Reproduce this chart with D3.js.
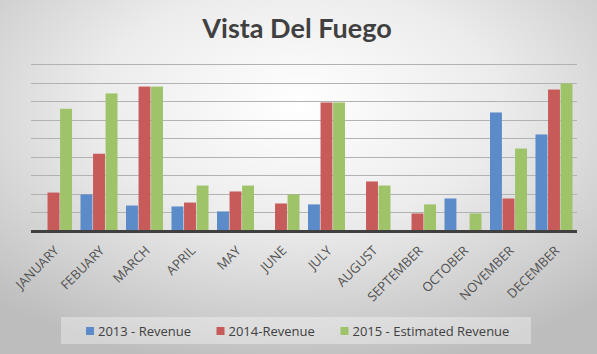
<!DOCTYPE html>
<html>
<head>
<meta charset="utf-8">
<script src="https://cdn.jsdelivr.net/npm/d3@7"></script>
<style>
  body { margin: 0; background: #fff; }
  svg { display: block; }
</style>
</head>
<body>
<script>
// Vista Del Fuego - monthly revenue, grouped columns

const W = 597
const H = 354

const months = ['JANUARY', 'FEBUARY', 'MARCH', 'APRIL', 'MAY', 'JUNE', 'JULY',
  'AUGUST', 'SEPTEMBER', 'OCTOBER', 'NOVEMBER', 'DECEMBER']
const seriesNames = ['2013 - Revenue', '2014-Revenue', '2015 - Estimated Revenue']
const rev2013 = [0, 1950, 1350, 1300, 1030, 0, 1410, 0, 0, 1730, 6380, 5190]
const rev2014 = [2050, 4150, 7780, 1510, 2110, 1460, 6920, 2650, 920, 0, 1730, 7620]
const rev2015 = [6580, 7410, 7780, 2430, 2430, 1950, 6920, 2430, 1410, 920, 4430, 7950]
const yTicks = [0, 1000, 2000, 3000, 4000, 5000, 6000, 7000, 8000, 9000]
const colors = ['#5b8bc8', '#c65b5a', '#9fc368']

const rows = months.map((m, i) => ({ month: m, values: [rev2013[i], rev2014[i], rev2015[i]] }))

const margin = { left: 31, right: 20, top: 64, bottom: 123.5 }

const svg = d3.select('body').append('svg')
  .attr('width', W)
  .attr('height', H)

// background gradient
const defs = svg.append('defs')
const grad = defs.append('radialGradient')
  .attr('id', 'bg')
  .attr('cx', '50%').attr('cy', '30%').attr('r', '75%')
  .attr('gradientUnits', 'objectBoundingBox')
grad.append('stop').attr('offset', '0%').attr('stop-color', '#ffffff')
grad.append('stop').attr('offset', '45%').attr('stop-color', '#ececec')
grad.append('stop').attr('offset', '100%').attr('stop-color', '#bdbdbd')
svg.append('rect')
  .attr('width', W).attr('height', H)
  .attr('fill', 'url(#bg)')

// title
svg.append('text')
  .attr('x', 297)
  .attr('y', 37.5)
  .attr('text-anchor', 'middle')
  .attr('font-family', 'Lato, "Open Sans", sans-serif')
  .attr('font-weight', 'bold')
  .attr('font-size', '27px')
  .attr('fill', '#404040')
  .text('Vista Del Fuego')

// scales
const x0 = d3.scaleBand()
  .domain(months)
  .range([margin.left, W - margin.right])
const x1 = d3.scaleBand()
  .domain([0, 1, 2])
  .range([4, x0.bandwidth() - 4.5])
  .paddingInner(0.05)
const y = d3.scaleLinear()
  .domain([0, 9000])
  .range([H - margin.bottom, margin.top])

// gridlines
svg.append('g')
  .selectAll('line')
  .data(yTicks.slice(1))
  .enter()
  .append('line')
  .attr('x1', margin.left)
  .attr('x2', W - margin.right)
  .attr('y1', (d) => Math.round(y(d)) + 0.5)
  .attr('y2', (d) => Math.round(y(d)) + 0.5)
  .attr('stroke', '#b2b2b2')
  .attr('stroke-width', 1)

// bars
const groups = svg.selectAll('.grp')
  .data(rows)
  .enter()
  .append('g')
  .attr('class', 'grp')
  .attr('transform', (d) => 'translate(' + x0(d.month) + ',0)')
groups.selectAll('rect')
  .data((d) => d.values.map((v, k) => ({ k: k, v: v })).filter((e) => e.v > 0))
  .enter()
  .append('rect')
  .attr('x', (d) => x1(d.k))
  .attr('y', (d) => y(d.v))
  .attr('width', x1.bandwidth())
  .attr('height', (d) => y(0) - y(d.v))
  .attr('fill', (d) => colors[d.k])

// baseline
svg.append('line')
  .attr('x1', margin.left)
  .attr('x2', W - margin.right)
  .attr('y1', y(0) + 1)
  .attr('y2', y(0) + 1)
  .attr('stroke', '#404040')
  .attr('stroke-width', 3)

// month labels
svg.append('g')
  .selectAll('text')
  .data(months)
  .enter()
  .append('text')
  .attr('transform', (d) => 'translate(' + (x0(d) + x0.bandwidth() / 2 + 6) + ',' + (y(0) + 21) + ') rotate(-45)')
  .attr('text-anchor', 'end')
  .attr('font-family', '"Open Sans", sans-serif')
  .attr('font-size', '13px')
  .attr('fill', '#505050')
  .text((d) => d)

// legend
const legend = svg.append('g')
legend.append('rect')
  .attr('x', 61).attr('y', 317)
  .attr('width', 470).attr('height', 27)
  .attr('fill', '#ffffff')
  .attr('fill-opacity', 0.35)
const legendX = [86, 216.5, 340.5]
const items = legend.selectAll('.item')
  .data(seriesNames)
  .enter()
  .append('g')
  .attr('class', 'item')
  .attr('transform', (d, i) => 'translate(' + legendX[i] + ',327)')
items.append('rect')
  .attr('width', 8).attr('height', 8)
  .attr('fill', (d, i) => colors[i])
items.append('text')
  .attr('x', 12)
  .attr('y', 8.5)
  .attr('font-family', '"Open Sans", sans-serif')
  .attr('font-size', '13px')
  .attr('fill', '#404040')
  .text((d) => d)
</script>
</body>
</html>
